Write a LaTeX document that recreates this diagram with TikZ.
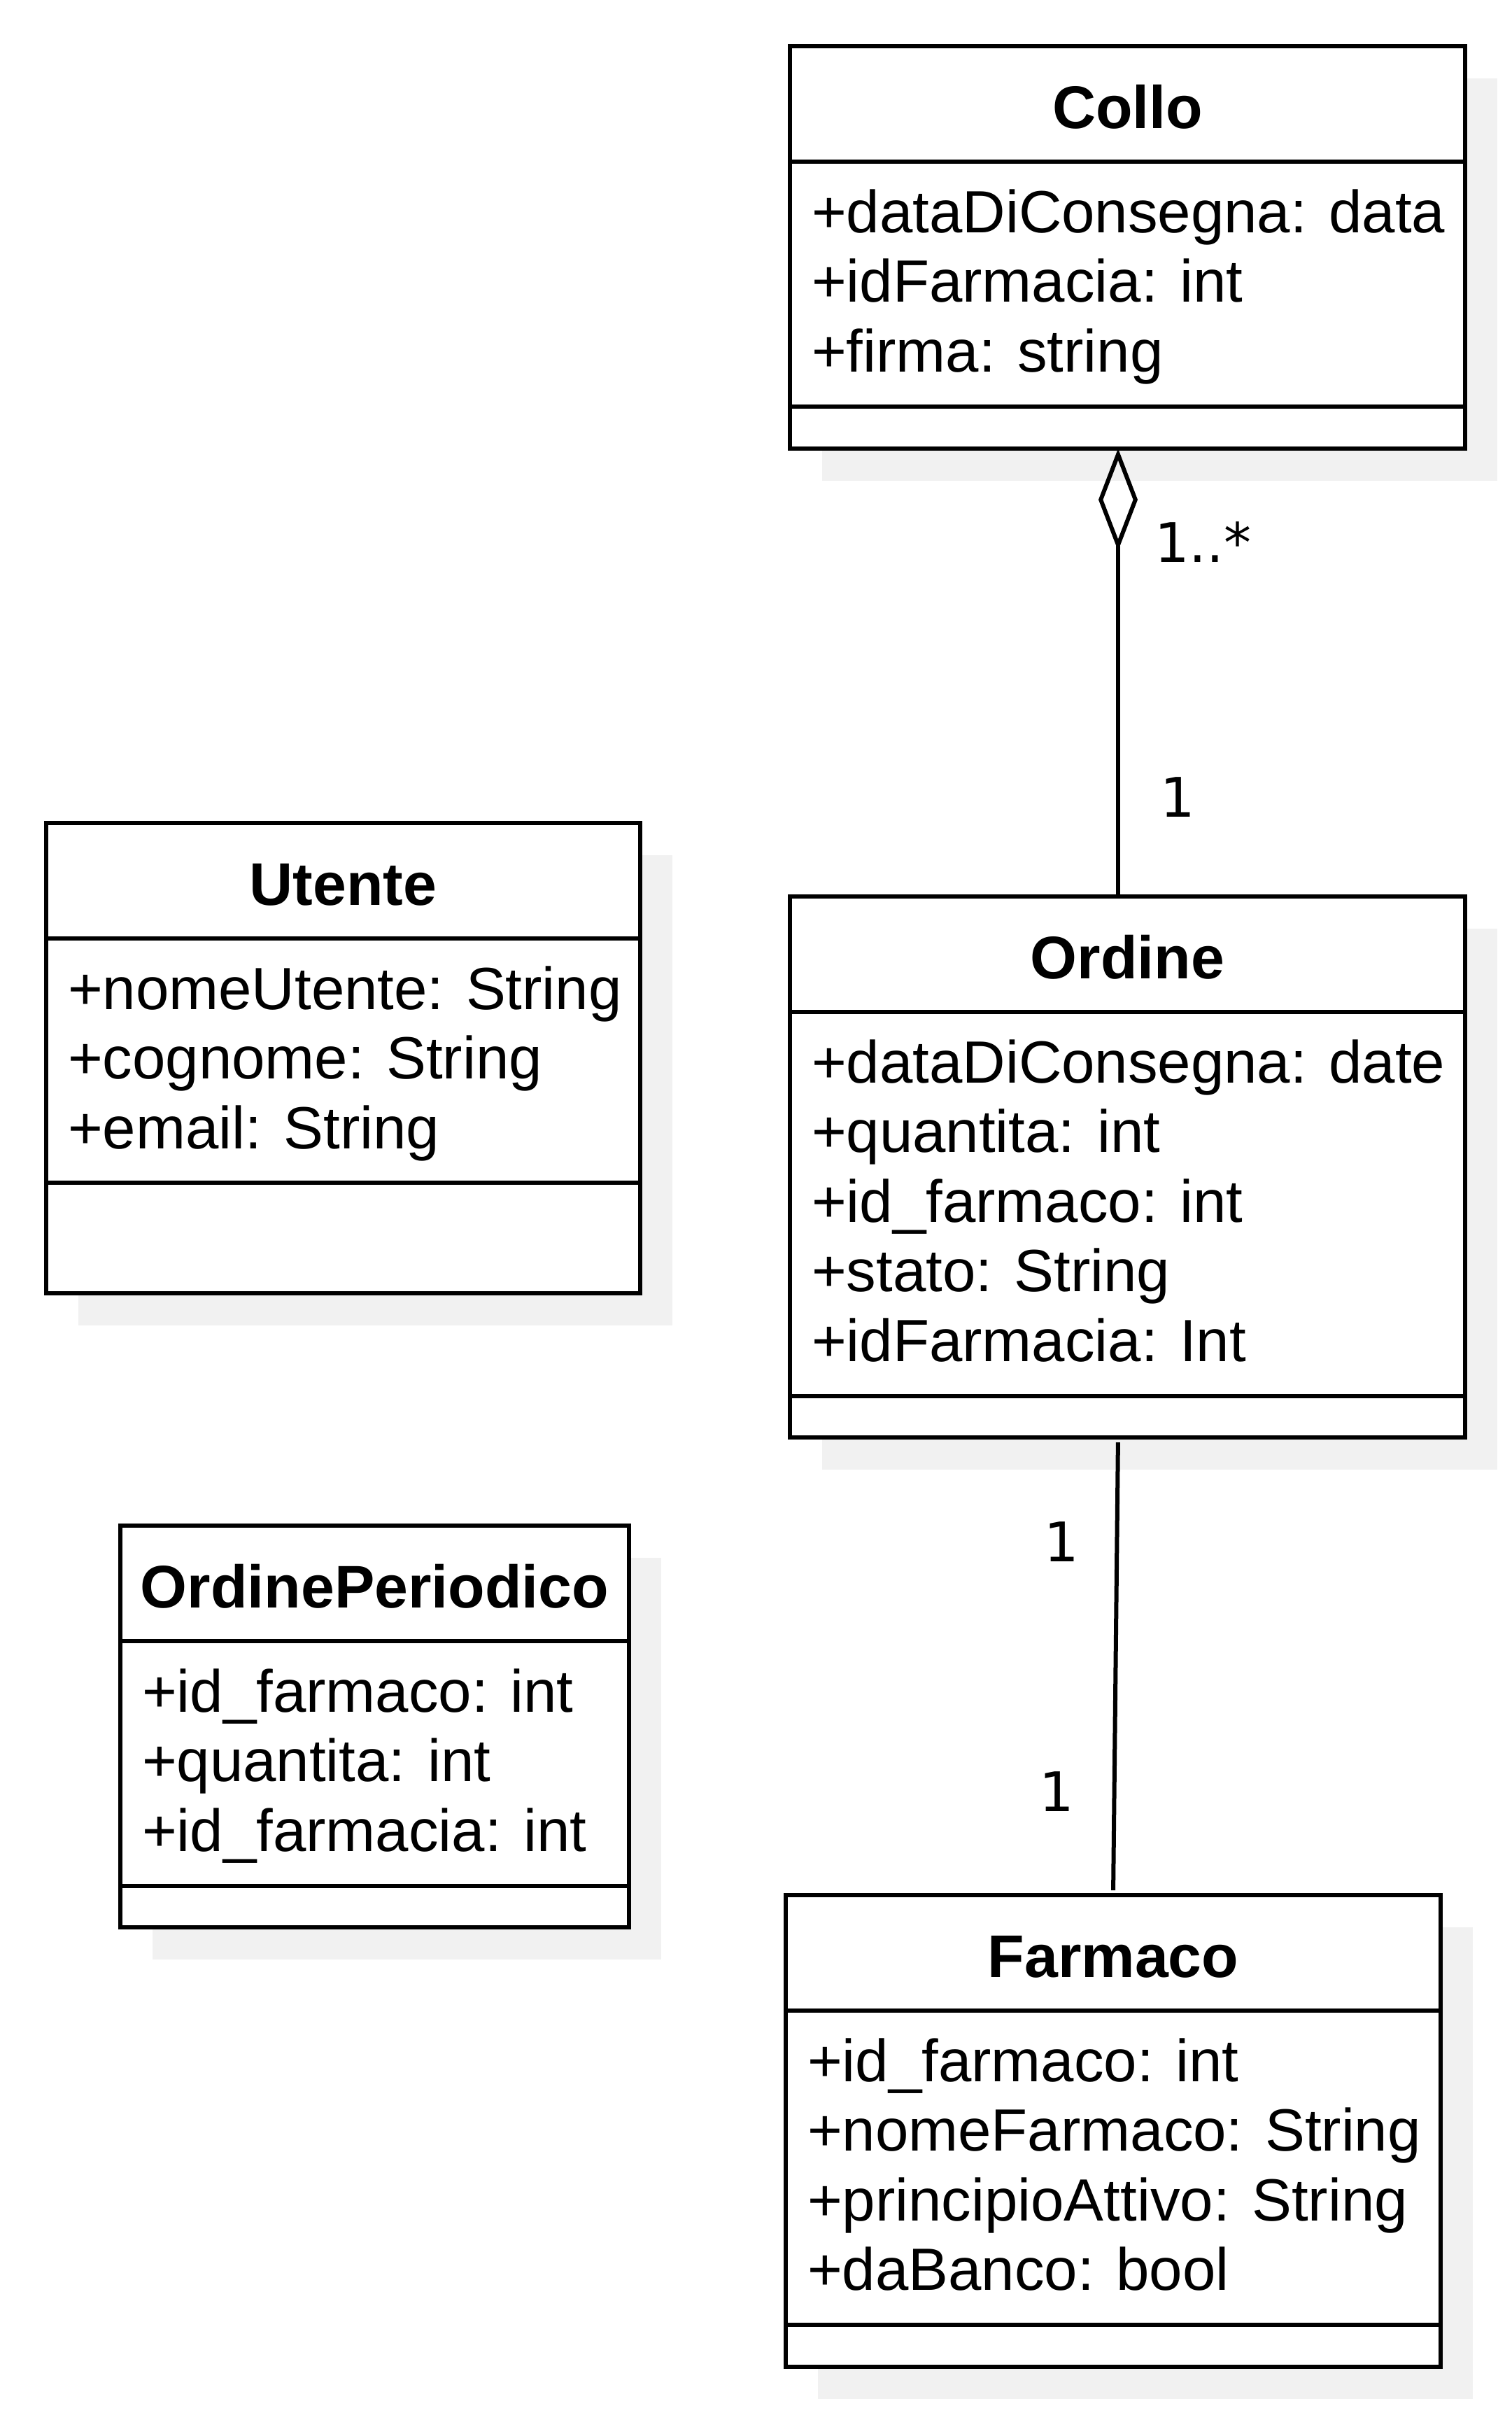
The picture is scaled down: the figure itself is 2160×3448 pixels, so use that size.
\documentclass[tikz,border=0pt]{standalone}
\usepackage{fontspec}
\setmainfont{Liberation Sans}
\newfontfamily\multfont{DejaVu Sans}
\usepackage{xcolor}
\usetikzlibrary{arrows.meta, positioning, shadows}
\definecolor{shadowgrey}{HTML}{F1F1F1}

\begin{document}
\begin{tikzpicture}[x=0.5pt, y=-0.5pt, line width=3pt]

    % Define style for boxes
    \tikzstyle{classtitle} = [rectangle, draw=black, fill=white, outer sep=0pt, inner sep=0pt, minimum height=82.5pt, text height=34.5pt, text depth=0pt, font=\fontsize{43}{50}\selectfont\bfseries, drop shadow={shadow xshift=23pt, shadow yshift=-23pt, fill=shadowgrey, opacity=1}]
    \tikzstyle{classpart} = [rectangle, draw=black, fill=white, outer sep=0pt, inner sep=0pt, drop shadow={shadow xshift=23pt, shadow yshift=-23pt, fill=shadowgrey, opacity=1}]
    \tikzstyle{attr} = [anchor=base west, inner sep=0pt, font=\fontsize{42.6}{50}\selectfont]
    \tikzstyle{mult} = [anchor=base west, inner sep=0pt, font=\multfont\fontsize{39}{46}\selectfont]
    \tikzstyle{aggr} = [{Diamond[open, length=73pt, width=28pt]}-]

    \fill[white] (0,0) rectangle (2160,3448);
    \useasboundingbox (0,0) rectangle (2160,3448);

    % Nodes
    \node (collo) [classtitle, minimum width=482.5pt] at (1611.5,148.5) {Collo};
    \node (colloattr) [classpart, minimum width=482.5pt, minimum height=175pt, below=0pt of collo] {};
    \node (collometh) [classpart, minimum width=482.5pt, minimum height=30pt, below=0pt of colloattr] {};
    \node (collodata) [attr] at ([shift={(28,101)}]colloattr.north west) {+dataDiConsegna: data};
    \node (collofarmacia) [attr] at ([shift={(28,200.5)}]colloattr.north west) {+idFarmacia: int};
    \node (collofirma) [attr] at ([shift={(28,300)}]colloattr.north west) {+firma: string};

    \node (utente) [classtitle, minimum width=424.5pt] at (490.5,1258.5) {Utente};
    \node (utenteattr) [classpart, minimum width=424.5pt, minimum height=174.5pt, below=0pt of utente] {};
    \node (utentemeth) [classpart, minimum width=424.5pt, minimum height=79pt, below=0pt of utenteattr] {};
    \node (utentenome) [attr] at ([shift={(28,101)}]utenteattr.north west) {+nomeUtente: String};
    \node (utentecognome) [attr] at ([shift={(28,200.5)}]utenteattr.north west) {+cognome: String};
    \node (utenteemail) [attr] at ([shift={(28,300)}]utenteattr.north west) {+email: String};

    \node (ordine) [classtitle, minimum width=482.5pt] at (1611.5,1363.5) {Ordine};
    \node (ordineattr) [classpart, minimum width=482.5pt, minimum height=274.5pt, below=0pt of ordine] {};
    \node (ordinemeth) [classpart, minimum width=482.5pt, minimum height=29.5pt, below=0pt of ordineattr] {};
    \node (ordinedata) [attr] at ([shift={(28,101)}]ordineattr.north west) {+dataDiConsegna: date};
    \node (ordinequantita) [attr] at ([shift={(28,200.5)}]ordineattr.north west) {+quantita: int};
    \node (ordinefarmaco) [attr] at ([shift={(28,300)}]ordineattr.north west) {+id\_farmaco: int};
    \node (ordinestato) [attr] at ([shift={(28,399.5)}]ordineattr.north west) {+stato: String};
    \node (ordinefarmacia) [attr] at ([shift={(28,499)}]ordineattr.north west) {+idFarmacia: Int};

    \node (periodico) [classtitle, minimum width=363.5pt] at (535.5,2262.5) {OrdinePeriodico};
    \node (periodicoattr) [classpart, minimum width=363.5pt, minimum height=175pt, below=0pt of periodico] {};
    \node (periodicometh) [classpart, minimum width=363.5pt, minimum height=29.5pt, below=0pt of periodicoattr] {};
    \node (periodicofarmaco) [attr] at ([shift={(28,101)}]periodicoattr.north west) {+id\_farmaco: int};
    \node (periodicoquantita) [attr] at ([shift={(28,200.5)}]periodicoattr.north west) {+quantita: int};
    \node (periodicofarmacia) [attr] at ([shift={(28,300)}]periodicoattr.north west) {+id\_farmacia: int};

    \node (farmaco) [classtitle, minimum width=468pt] at (1591,2790.5) {Farmaco};
    \node (farmacoattr) [classpart, minimum width=468pt, minimum height=224.5pt, below=0pt of farmaco] {};
    \node (farmacometh) [classpart, minimum width=468pt, minimum height=30pt, below=0pt of farmacoattr] {};
    \node (farmacoid) [attr] at ([shift={(28,101)}]farmacoattr.north west) {+id\_farmaco: int};
    \node (farmaconome) [attr] at ([shift={(28,200.5)}]farmacoattr.north west) {+nomeFarmaco: String};
    \node (farmacoprincipio) [attr] at ([shift={(28,300)}]farmacoattr.north west) {+principioAttivo: String};
    \node (farmacobanco) [attr] at ([shift={(28,399.5)}]farmacoattr.north west) {+daBanco: bool};

    % Multiplicities
    \node (multcollo) [mult] at (1647,803) {1..*};
    \node (multordinesu) [mult] at (1655,1167) {1};
    \node (multordinegiu) [mult] at (1489,2231) {1};
    \node (multfarmaco) [mult] at (1482,2588) {1};

    % Lines
    \draw[aggr] ([xshift=-6.75pt]collometh.south) -- ([xshift=-6.75pt]ordine.north);
    \draw[shorten <=3.5pt, shorten >=3.5pt] ([xshift=-6.75pt]ordinemeth.south) -- (farmaco.north);

\end{tikzpicture}
\end{document}
